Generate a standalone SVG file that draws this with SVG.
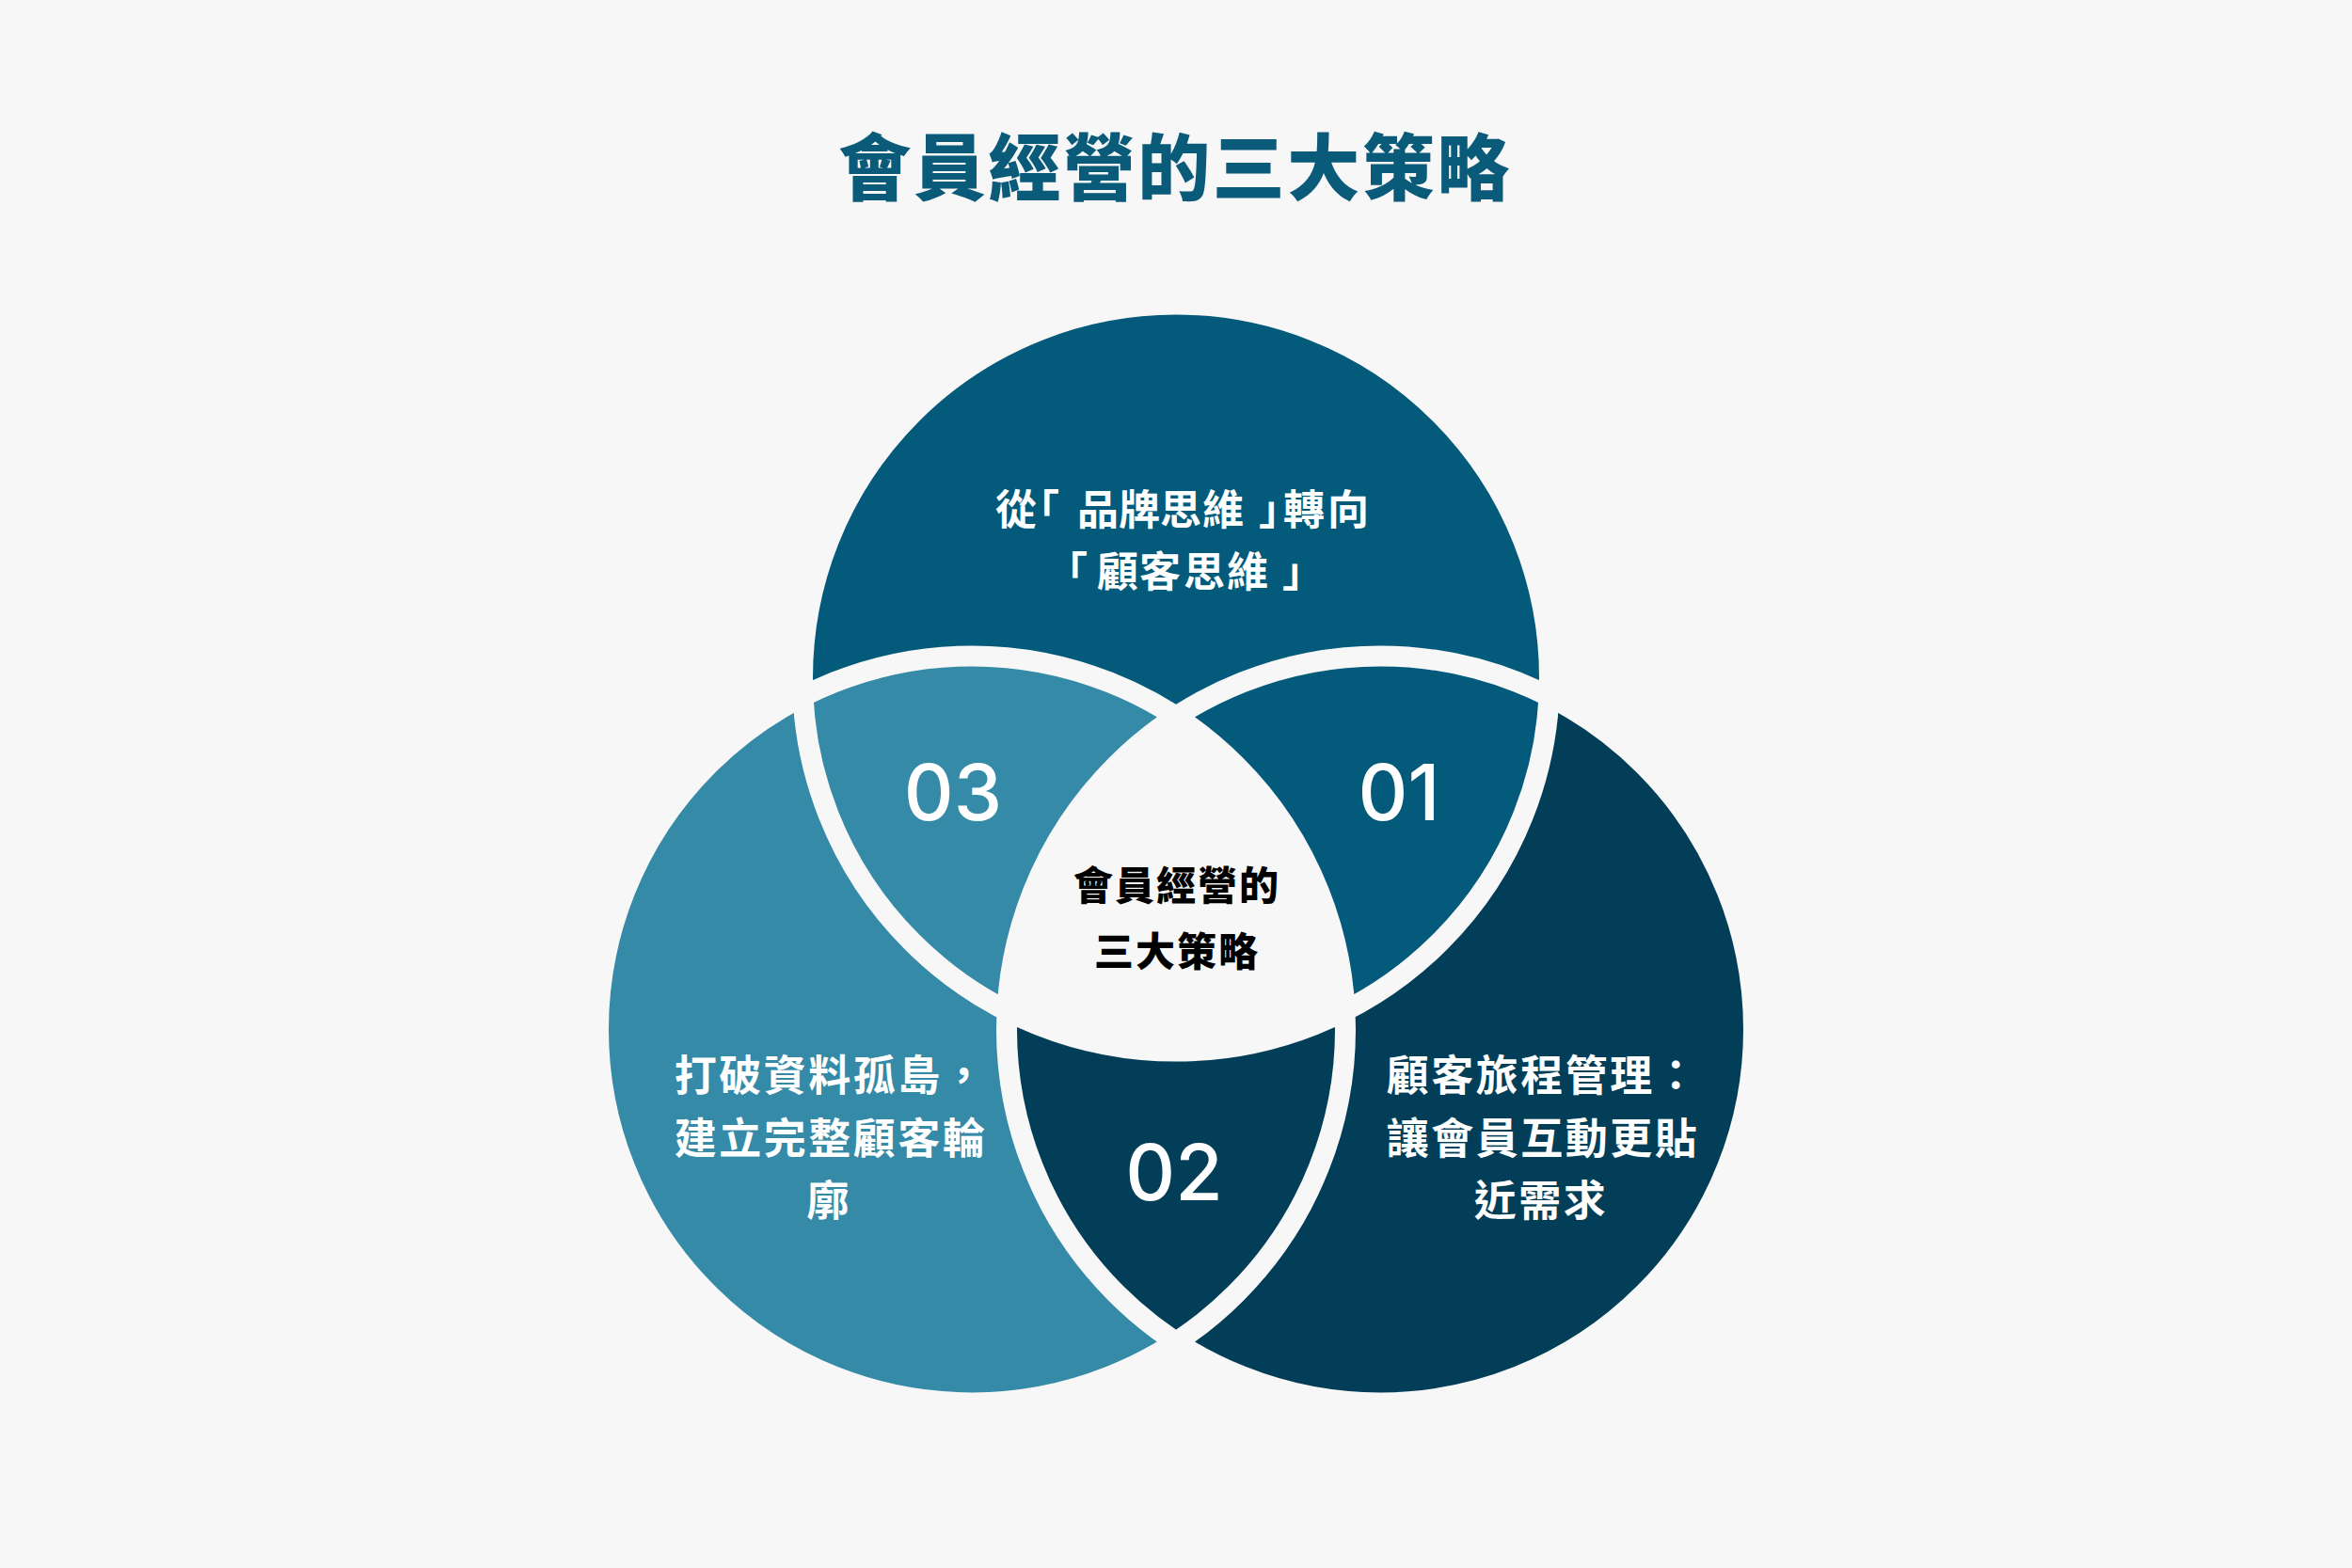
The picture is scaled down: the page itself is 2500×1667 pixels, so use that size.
<svg xmlns="http://www.w3.org/2000/svg" width="2500" height="1667" viewBox="0 0 2500 1667">
<style>
.bg{fill:#f7f7f7}
.cT{fill:#035a7a}
.cL{fill:#358aa7}
.cR{fill:#023e57}
.gap{fill:none;stroke:#f7f7f7;stroke-width:22}
.cjk{font-family:"Noto Sans CJK TC","Noto Sans CJK SC",sans-serif;text-anchor:middle}
.title{font-size:77px;font-weight:900;fill:#0a5a7a;letter-spacing:2.5px}
.body{font-size:45px;font-weight:700;fill:#ffffff;letter-spacing:2.5px}
.glyph{font-size:44px;font-weight:700;fill:#ffffff}
.center{font-size:42px;font-weight:900;fill:#000000;letter-spacing:2px}
.num{font-family:Inter,"Noto Sans",sans-serif;font-size:82px;font-weight:500;fill:#ffffff;text-anchor:middle}
</style>
<defs>
<clipPath id="clipL"><circle cx="1033" cy="1094.4" r="397"/></clipPath>
<clipPath id="clipR"><circle cx="1467" cy="1094.4" r="397"/></clipPath>
</defs>
<rect class="bg" x="0" y="0" width="2500" height="1667"/>
<text id="title" class="cjk title" x="1249" y="207">會員經營的三大策略</text>
<g id="venn-fills">
<circle id="fill-top" class="cT" cx="1250" cy="720.6" r="397"/>
<circle id="fill-left" class="cL" cx="1033" cy="1094.4" r="397"/>
<circle id="fill-right" class="cR" cx="1467" cy="1094.4" r="397"/>
<circle id="fill-top-right" class="cT" cx="1250" cy="720.6" r="397" clip-path="url(#clipR)"/>
<g clip-path="url(#clipL)"><circle id="fill-center" class="bg" cx="1250" cy="720.6" r="397" clip-path="url(#clipR)"/></g>
</g>
<g id="venn-gaps">
<circle class="gap" cx="1250" cy="720.6" r="397"/>
<circle class="gap" cx="1033" cy="1094.4" r="397"/>
<circle class="gap" cx="1467" cy="1094.4" r="397"/>
</g>
<g id="node-top">
<text class="cjk glyph" x="1080 1104 1132 1167 1211 1255 1300 1328 1360 1386 1433" y="558">從「 品牌思維 」轉向</text>
<text class="cjk glyph" x="1134 1160 1188 1233 1280 1326 1352 1385" y="624">「 顧客思維 」</text>
</g>
<g id="node-left">
<text class="cjk body" x="883" y="1160">打破資料孤島，</text>
<text class="cjk body" x="883" y="1227">建立完整顧客輪</text>
<text class="cjk body" x="881" y="1293">廓</text>
</g>
<g id="node-right">
<text class="cjk body" x="1640" y="1160">顧客旅程管理：</text>
<text class="cjk body" x="1640" y="1227">讓會員互動更貼</text>
<text class="cjk body" x="1638" y="1293">近需求</text>
</g>
<g id="node-center">
<text class="cjk center" x="1251" y="957">會員經營的</text>
<text class="cjk center" x="1251" y="1027">三大策略</text>
</g>
<g id="label-03"><text class="num" x="1013" y="872">03</text></g>
<g id="label-01"><text class="num" x="1487" y="872">01</text></g>
<g id="label-02"><text class="num" x="1248" y="1276">02</text></g>
</svg>
